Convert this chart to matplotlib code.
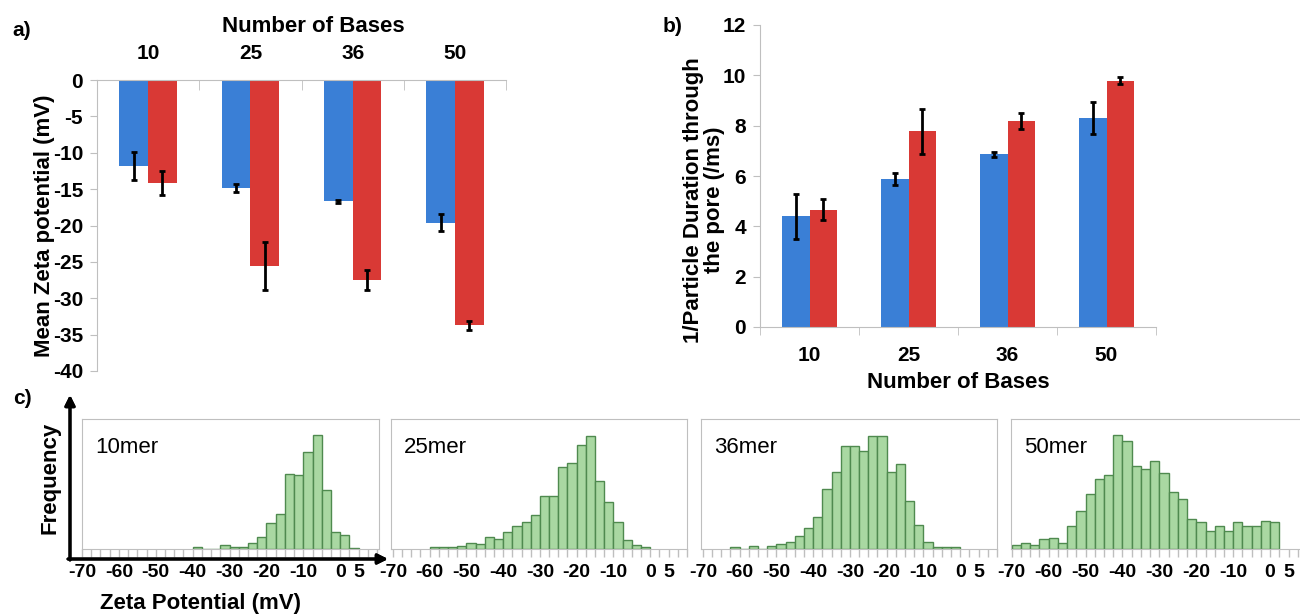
"""Zeta potential and translocation figure (panels a, b, c)."""

import matplotlib
matplotlib.use("Agg")
import matplotlib.pyplot as plt
import numpy as np

plt.rcParams["font.family"] = ["Liberation Sans Narrow", "Liberation Sans", "DejaVu Sans"]
plt.rcParams["font.weight"] = "bold"
plt.rcParams["axes.labelweight"] = "bold"
plt.rcParams["axes.unicode_minus"] = False

W, H = 1300, 614

# ---- data ----
bases = ["10", "25", "36", "50"]

zeta_blue = [-11.8, -14.9, -16.7, -19.6]
zeta_blue_err = [1.9, 0.55, 0.15, 1.15]
zeta_red = [-14.1, -25.6, -27.5, -33.7]
zeta_red_err = [1.65, 3.3, 1.4, 0.6]

rate_blue = [4.4, 5.87, 6.86, 8.3]
rate_blue_err = [0.89, 0.23, 0.1, 0.64]
rate_red = [4.66, 7.77, 8.19, 9.79]
rate_red_err = [0.42, 0.89, 0.33, 0.13]

bin_width = 2.5
hist_labels = ["10mer", "25mer", "36mer", "50mer"]
hist_start = [-40, -60, -62.5, -70]
hist_10 = [5, 0, 0, 11, 7, 7, 18, 35, 78, 106, 226, 222, 291, 341, 176, 51, 41, 4]
hist_25 = [5, 5, 5, 9, 18, 14, 35, 31, 52, 69, 81, 102, 159, 159, 247, 258,
           312, 339, 204, 140, 81, 27, 11, 5]
hist_36 = [5, 0, 8, 0, 8, 15, 21, 38, 62, 96, 180, 231, 309, 309, 294, 339,
           339, 231, 255, 144, 72, 21, 5, 5, 5]
hist_50 = [13, 19, 13, 29, 33, 19, 70, 114, 164, 209, 222, 341, 324, 249, 239,
           263, 229, 172, 151, 91, 80, 53, 70, 53, 80, 70, 70, 84, 80]
hist_counts = [hist_10, hist_25, hist_36, hist_50]
hist_ticks = [-70, -60, -50, -40, -30, -20, -10, 0, 5]

BLUE = "#3a7fd6"
RED = "#d93935"
GREEN = "#a9d8a2"
GREEN_EDGE = "#4f8a4f"
GRAY = "#bfbfbf"


def rect(l, t, r, b):
    return [l / W, 1 - b / H, (r - l) / W, (b - t) / H]


def fig_text(x, y, s, **kw):
    fig.text(x / W, 1 - y / H, s, **kw)


def grouped_bars(ax, blue, blue_err, red, red_err):
    x = np.arange(len(bases))
    bw = 0.28
    ax.bar(x - bw / 2, blue, bw, color=BLUE, zorder=2)
    ax.bar(x + bw / 2, red, bw, color=RED, zorder=2)
    ekw = dict(fmt="none", ecolor="black", elinewidth=2, capsize=2, capthick=2, zorder=3)
    ax.errorbar(x - bw / 2, blue, yerr=blue_err, **ekw)
    ax.errorbar(x + bw / 2, red, yerr=red_err, **ekw)
    ax.set_xlim(-0.5, len(bases) - 0.5)
    ax.set_xticks(x)
    ax.set_xticklabels(bases)
    ax.set_xticks(np.arange(len(bases) + 1) - 0.5, minor=True)
    for s in ax.spines.values():
        s.set_color(GRAY)
    ax.tick_params(axis="both", which="major", labelsize=15, colors="black")
    ax.tick_params(axis="y", color=GRAY, length=5, pad=5)
    ax.tick_params(axis="x", which="major", length=0)


def bold_ticks(ax):
    for lab in ax.get_xticklabels() + ax.get_yticklabels():
        lab.set_fontweight("bold")


fig = plt.figure(figsize=(W / 100, H / 100), dpi=100)

# ---- panel a ----
ax_a = fig.add_axes(rect(97, 80, 506, 371))
grouped_bars(ax_a, zeta_blue, zeta_blue_err, zeta_red, zeta_red_err)
ax_a.set_ylim(-40, 0)
ax_a.set_yticks(np.arange(-40, 1, 5))
ax_a.spines["bottom"].set_visible(False)
ax_a.spines["right"].set_visible(False)
ax_a.xaxis.tick_top()
ax_a.tick_params(axis="x", which="major", pad=12)
ax_a.tick_params(axis="x", which="minor", direction="in", color=GRAY, length=7, top=True, bottom=False)
ax_a.set_ylabel("Mean Zeta potential (mV)", fontsize=16)
ax_a.yaxis.set_label_coords(-0.102, 0.5)
bold_ticks(ax_a)
fig_text(313, 26, "Number of Bases", fontsize=16, ha="center", va="center")
fig_text(22, 30, "a)", fontsize=15, ha="center", va="center")

# ---- panel b ----
ax_b = fig.add_axes(rect(760, 25, 1156, 327))
grouped_bars(ax_b, rate_blue, rate_blue_err, rate_red, rate_red_err)
ax_b.set_ylim(0, 12)
ax_b.set_yticks(np.arange(0, 13, 2))
ax_b.spines["top"].set_visible(False)
ax_b.spines["right"].set_visible(False)
ax_b.tick_params(axis="x", which="major", pad=14)
ax_b.tick_params(axis="x", which="minor", direction="out", color=GRAY, length=6)
ax_b.set_xlabel("Number of Bases", fontsize=16, labelpad=5)
ax_b.set_ylabel("1/Particle Duration through\nthe pore (/ms)", fontsize=16, linespacing=1.0)
ax_b.yaxis.set_label_coords(-0.088, 0.42)
bold_ticks(ax_b)
fig_text(673, 27, "b)", fontsize=15, ha="center", va="center")

# ---- panel c ----
boxes = [(82, 379, (-67.6, 10.5)), (391, 687, (-70.5, 9.8)),
         (701, 997, (-70.5, 9.8)), (1011, 1307, (-70.2, 9.8))]
for (left, right, xl), label, start, counts in zip(boxes, hist_labels, hist_start, hist_counts):
    ax = fig.add_axes(rect(left, 419, right, 549))
    edges = start + bin_width * np.arange(len(counts))
    ax.bar(edges, counts, width=bin_width, align="edge", color=GREEN,
           edgecolor=GREEN_EDGE, linewidth=1.0)
    ax.set_xlim(*xl)
    ax.set_ylim(0, 390)
    ax.set_yticks([])
    ax.set_xticks(np.arange(-70, 10.1, 2.5))
    ax.set_xticklabels([])
    ax.tick_params(axis="x", color=GRAY, length=6, width=1)
    for s in ax.spines.values():
        s.set_color(GRAY)
    ax.text(0.045, 0.78, label, transform=ax.transAxes, fontsize=16, fontweight="normal",
            family=["Liberation Sans", "DejaVu Sans"], va="center", ha="left")
    for t in hist_ticks:
        ax.text(t, -0.18, str(t), transform=ax.get_xaxis_transform(), fontsize=14,
                ha="center", va="center", clip_on=False)

arrow = dict(arrowstyle="-|>,head_length=0.6,head_width=0.3", lw=2.2, color="black",
             shrinkA=0, shrinkB=0)
fig.add_artist(plt.annotate("", xy=(388, H - 559), xytext=(68, H - 559),
                            xycoords="figure pixels", arrowprops=arrow))
fig.add_artist(plt.annotate("", xy=(70, H - 395), xytext=(70, H - 560),
                            xycoords="figure pixels", arrowprops=arrow))
fig_text(50, 478, "Frequency", fontsize=16, rotation=90,
         ha="center", va="center", family=["Liberation Sans", "DejaVu Sans"])
fig_text(200, 604, "Zeta Potential (mV)", fontsize=16,
         ha="center", va="center", family=["Liberation Sans", "DejaVu Sans"])
fig_text(22, 398, "c)", fontsize=15, ha="center", va="center")

fig.savefig("out.png", dpi=100)
